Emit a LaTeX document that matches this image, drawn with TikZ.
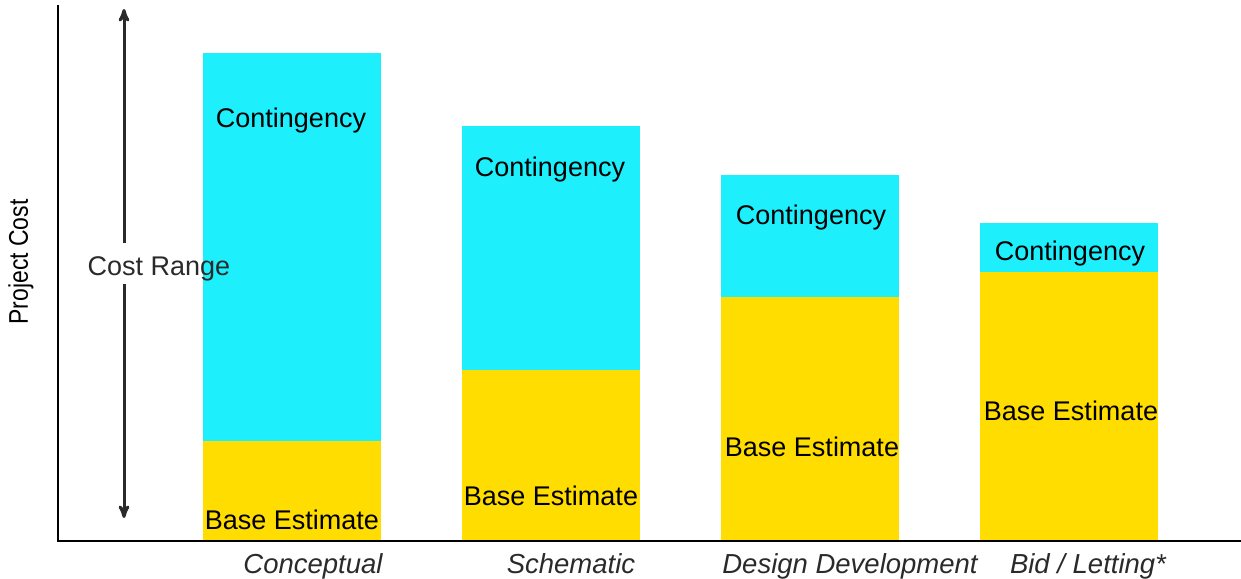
\documentclass[tikz,border=0pt]{standalone}
\usepackage{fontspec}
\setmainfont{Liberation Sans}
\usetikzlibrary{arrows}
\definecolor{contcyan}{HTML}{1DEFFD}
\definecolor{baseyellow}{HTML}{FFDD00}
\definecolor{labelgray}{HTML}{2A2A2A}

\begin{document}
\begin{tikzpicture}[x=1pt,y=-1pt,>=stealth',
                bar label/.style={font=\fontsize{27}{30}\selectfont,inner sep=0pt,anchor=base},
                phase label/.style={font=\fontsize{27.5}{30}\selectfont\itshape,text=labelgray,inner sep=0pt,anchor=base},
                cont/.style={fill=contcyan},
                base/.style={fill=baseyellow}]
                \useasboundingbox (0,0) rectangle (1241,578);

                % bars
                \fill[cont] (203,53) rectangle (381,441);
                \fill[base] (203,441) rectangle (381,541);
                \fill[cont] (462,126) rectangle (640,370);
                \fill[base] (462,370) rectangle (640,541);
                \fill[cont] (721,175) rectangle (899,297);
                \fill[base] (721,297) rectangle (899,541);
                \fill[cont] (980,223) rectangle (1158,272);
                \fill[base] (980,272) rectangle (1158,541);

                % axes
                \coordinate (origin) at (58,541);
                \coordinate (ytop) at (58,5);
                \coordinate (xend) at (1241,541);
                \draw[line width=2.6pt] (ytop) -- (origin) -- (xend);

                \node[bar label] (c1) at (291,127) {Contingency};
                \node[bar label] (c2) at (550,176) {Contingency};
                \node[bar label] (c3) at (811,224) {Contingency};
                \node[bar label] (c4) at (1070,260) {Contingency};
                \node[bar label] (b1) at (292,529) {Base Estimate};
                \node[bar label] (b2) at (551,505) {Base Estimate};
                \node[bar label] (b3) at (812,456) {Base Estimate};
                \node[bar label] (b4) at (1071,420) {Base Estimate};

                \node[phase label] (p1) at (313,573) {Conceptual};
                \node[phase label] (p2) at (571,573) {Schematic};
                \node[phase label] (p3) at (850,573) {Design Development};
                \node[phase label] (p4) at (1088,573) {Bid / Letting*};

                \node[font=\fontsize{27}{30}\selectfont,rotate=90,inner sep=0pt] (ylab) at (21,262)
                        {\scalebox{0.85}[1]{Project Cost}};

                % cost range arrow
                \node[bar label,text=labelgray] (range) at (159,275) {Cost Range};
                \coordinate (rtop) at (124,9);
                \coordinate (rup) at (124,243);
                \coordinate (rdown) at (124,284);
                \coordinate (rbot) at (124,518);
                \draw[->,labelgray,line width=3pt] (rup) -- (rtop);
                \draw[->,labelgray,line width=3pt] (rdown) -- (rbot);
\end{tikzpicture}
\end{document}
